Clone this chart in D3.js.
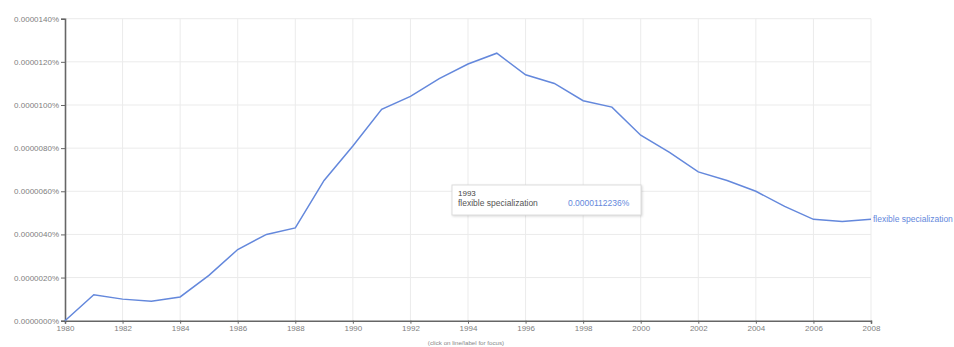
<!DOCTYPE html>
<html>
<head>
<meta charset="utf-8">
<script src="https://cdn.jsdelivr.net/npm/d3@7"></script>
<style>
  html, body { margin: 0; padding: 0; background: #fff; }
  svg { display: block; font-family: Arial, "Liberation Sans", sans-serif; }
</style>
</head>
<body>
<svg id="chart" width="954" height="347"></svg>
<script>
const years = [1980,1981,1982,1983,1984,1985,1986,1987,1988,1989,1990,1991,1992,1993,1994,1995,1996,1997,1998,1999,2000,2001,2002,2003,2004,2005,2006,2007,2008];
// frequency, in percent
const values = [0.0000000,0.0000012,0.0000010,0.0000009,0.0000011,0.0000021,0.0000033,0.0000040,0.0000043,0.0000065,0.0000081,0.0000098,0.0000104,0.0000112236,0.0000119,0.0000124,0.0000114,0.0000110,0.0000102,0.0000099,0.0000086,0.0000078,0.0000069,0.0000065,0.0000060,0.0000053,0.0000047,0.0000046,0.0000047];
const seriesName = "flexible specialization";
const yTicks = [0,0.000002,0.000004,0.000006,0.000008,0.000010,0.000012,0.000014];
const xTicks = [1980,1982,1984,1986,1988,1990,1992,1994,1996,1998,2000,2002,2004,2006,2008];
const tooltipYear = 1993;
const note = "(click on line/label for focus)";

const svg = d3.select("#chart");
const pLeft = 65, pRight = 871, pTop = 18.7, pBottom = 320.7;
const x = d3.scaleLinear().domain([1980, 2008]).range([pLeft, pRight]);
const y = d3.scaleLinear().domain([0, 0.000014]).range([pBottom, pTop]);
const lineColor = "#6488dc";
const textColor = "#808080";

// gridlines
svg.append("g").selectAll("line").data(yTicks.slice(1)).join("line")
  .attr("x1", pLeft).attr("x2", pRight)
  .attr("y1", d => y(d)).attr("y2", d => y(d))
  .attr("stroke", "#ebebeb").attr("stroke-width", 1);
svg.append("g").selectAll("line").data(xTicks.slice(1)).join("line")
  .attr("x1", d => x(d)).attr("x2", d => x(d))
  .attr("y1", pTop).attr("y2", pBottom)
  .attr("stroke", "#ebebeb").attr("stroke-width", 1);

// axes
const yAxis = d3.axisLeft(y).tickValues(yTicks).tickSize(4).tickPadding(2)
  .tickFormat(d => d.toFixed(7) + "%");
const gy = svg.append("g").attr("transform", `translate(${pLeft},0)`).call(yAxis);
gy.select(".domain").attr("stroke", "#666").attr("stroke-width", 1.6);
gy.selectAll(".tick line").attr("stroke", "#666");
gy.selectAll(".tick text").attr("fill", textColor).attr("font-size", 8);

const xAxis = d3.axisBottom(x).tickValues(xTicks).tickSize(3).tickPadding(2)
  .tickFormat(d3.format("d"));
const gx = svg.append("g").attr("transform", `translate(0,${pBottom})`).call(xAxis);
gx.select(".domain").attr("stroke", "#666").attr("stroke-width", 1.6);
gx.selectAll(".tick line").attr("stroke", "#666");
gx.selectAll(".tick text").attr("fill", textColor).attr("font-size", 8);

// line
const line = d3.line().x((d, i) => x(years[i])).y(d => y(d));
svg.append("path").datum(values)
  .attr("d", line).attr("fill", "none")
  .attr("stroke", lineColor).attr("stroke-width", 1.5);

// end label
svg.append("text")
  .attr("x", x(years[years.length - 1]) + 2)
  .attr("y", y(values[values.length - 1]) + 3)
  .attr("fill", lineColor).attr("font-size", 8.5)
  .text(seriesName);

// tooltip
const ti = years.indexOf(tooltipYear);
const tip = svg.append("g").attr("transform", "translate(452,185)");
tip.append("rect").attr("width", 189).attr("height", 30)
  .attr("fill", "#fff").attr("stroke", "#ddd").attr("stroke-width", 1)
  .style("filter", "drop-shadow(1px 1px 1px rgba(0,0,0,0.15))");
tip.append("text").attr("x", 6).attr("y", 11).attr("font-size", 8).attr("fill", "#444").text(tooltipYear);
tip.append("text").attr("x", 6).attr("y", 21).attr("font-size", 8.5).attr("fill", "#555").text(seriesName);
tip.append("text").attr("x", 116).attr("y", 21).attr("font-size", 8.5).attr("fill", lineColor)
  .text(values[ti].toFixed(10) + "%");

// note
svg.append("text").attr("x", 466).attr("y", 345).attr("text-anchor", "middle")
  .attr("font-size", 6.2).attr("fill", "#888").text(note);
</script>
</body>
</html>
